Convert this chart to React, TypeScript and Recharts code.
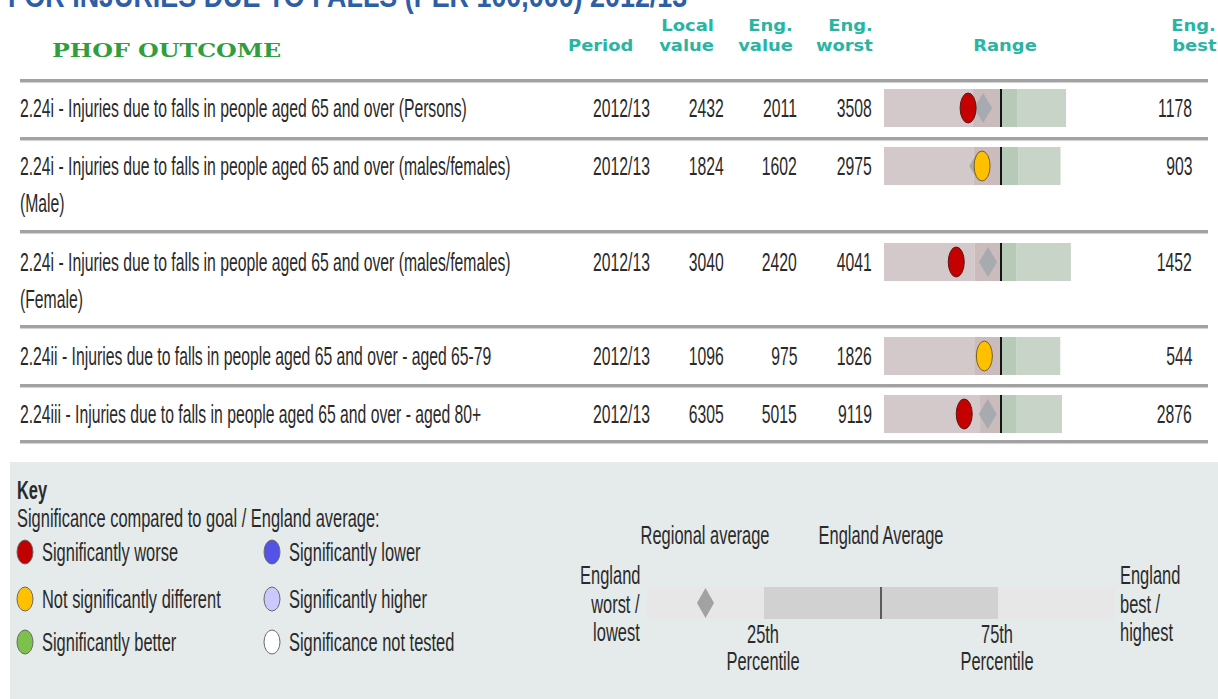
import React from 'react';
import { ComposedChart, Bar, XAxis, YAxis, ReferenceLine, ReferenceDot } from 'recharts';

// table rows (PHOF 2.24 injuries due to falls, per 100,000, 2012/13)
const OUTCOMES: string[][] = [
    ['2.24i - Injuries due to falls in people aged 65 and over (Persons)'],
    ['2.24i - Injuries due to falls in people aged 65 and over (males/females)', '(Male)'],
    ['2.24i - Injuries due to falls in people aged 65 and over (males/females)', '(Female)'],
    ['2.24ii - Injuries due to falls in people aged 65 and over - aged 65-79'],
    ['2.24iii - Injuries due to falls in people aged 65 and over - aged 80+'],
];
const PERIODS = ['2012/13', '2012/13', '2012/13', '2012/13', '2012/13'];
const LOCAL_VALUES = [2432, 1824, 3040, 1096, 6305];
const ENG_VALUES = [2011, 1602, 2420, 975, 5015];
const ENG_WORST = [3508, 2975, 4041, 1826, 9119];
const ENG_BEST = [1178, 903, 1452, 544, 2876];
// percentiles and regional average, estimated from the range bars
const Q25 = [2370, 1920, 2790, 1170, 5750];
const Q75 = [1805, 1400, 2210, 865, 4490];
const REGIONAL = [2240, 1870, 2600, 1095, 5480];
const SIGNIFICANCE = ['worse', 'same', 'worse', 'same', 'worse'];

const KEY_ITEMS = [
    { label: 'Significantly worse', fill: '#c00000' },
    { label: 'Significantly lower', fill: '#5353e8' },
    { label: 'Not significantly different', fill: '#ffc000' },
    { label: 'Significantly higher', fill: '#c9c9ff' },
    { label: 'Significantly better', fill: '#7cc24a' },
    { label: 'Significance not tested', fill: '#ffffff' },
];
const KEY_BANDS = [{ name: 'key', low: 25, mid: 50, high: 25 }];

const SIG_COLORS: Record<string, { fill: string; stroke: string }> = {
    worse: { fill: '#c40000', stroke: '#5e1414' },
    same: { fill: '#ffc000', stroke: '#7a6020' },
};

// layout
const ROW_Y = [108, 166, 262, 356, 414];
const SEP_Y = [80, 138, 231, 326, 385, 441];
const LINE_GAP = 37;
const SQ = 0.605;
const SQ_KEY = 0.632;
const BODY = '"Liberation Sans", Arial, sans-serif';

type TProps = {
    x: number;
    y: number;
    children: React.ReactNode;
    align?: 'left' | 'right' | 'center';
    size?: number;
    weight?: number;
    color?: string;
    sx?: number;
    family?: string;
};

function T({ x, y, children, align = 'left', size = 26, weight = 400, color = '#2a2a2a', sx = SQ, family = BODY }: TProps) {
    const lh = size;
    const inner: React.CSSProperties = {
        position: 'absolute',
        top: 0,
        whiteSpace: 'nowrap',
        fontFamily: family,
        fontSize: size,
        fontWeight: weight,
        lineHeight: `${lh}px`,
        color,
    };
    if (align === 'left') Object.assign(inner, { left: 0, transform: `scaleX(${sx})`, transformOrigin: 'left center' });
    if (align === 'right') Object.assign(inner, { right: 0, transform: `scaleX(${sx})`, transformOrigin: 'right center' });
    if (align === 'center') Object.assign(inner, { left: 0, transform: `translateX(-50%) scaleX(${sx})`, transformOrigin: 'center center' });
    return (
        <div style={{ position: 'absolute', left: x, top: y - lh / 2, width: 0, height: lh }}>
            <span style={inner}>{children}</span>
        </div>
    );
}

const Diamond = (w: number, h: number, fill: string) => (p: any) => (
    <polygon
        points={`${p.cx},${p.cy - h / 2} ${p.cx + w / 2},${p.cy} ${p.cx},${p.cy + h / 2} ${p.cx - w / 2},${p.cy}`}
        fill={fill}
    />
);

function SpineChart({ i }: { i: number }) {
    const eng = ENG_VALUES[i];
    const half = Math.max(ENG_WORST[i] - eng, eng - ENG_BEST[i]);
    const data = [
        {
            name: `r${i}`,
            base: ENG_BEST[i],
            bestQ: Q75[i] - ENG_BEST[i],
            q75Avg: eng - Q75[i],
            avgQ25: Q25[i] - eng,
            q25Worst: ENG_WORST[i] - Q25[i],
        },
    ];
    const sig = SIG_COLORS[SIGNIFICANCE[i]];
    return (
        <ComposedChart
            width={234}
            height={38}
            layout="vertical"
            data={data}
            margin={{ top: 0, right: 0, bottom: 0, left: 0 }}
            barCategoryGap={0}
        >
            <XAxis type="number" hide reversed allowDataOverflow domain={[eng - half, eng + half]} />
            <YAxis type="category" dataKey="name" hide />
            <Bar dataKey="base" stackId="s" fill="transparent" isAnimationActive={false} />
            <Bar dataKey="bestQ" stackId="s" fill="#c9d4c9" isAnimationActive={false} />
            <Bar dataKey="q75Avg" stackId="s" fill="#b7c9b7" isAnimationActive={false} />
            <Bar dataKey="avgQ25" stackId="s" fill="#cabbbc" isAnimationActive={false} />
            <Bar dataKey="q25Worst" stackId="s" fill="#d4c9ca" isAnimationActive={false} />
            <ReferenceDot x={REGIONAL[i]} y={`r${i}`} shape={Diamond(18, 30, '#a7aaaf')} />
            <ReferenceLine x={eng} stroke="#151515" strokeWidth={2} />
            <ReferenceDot
                x={LOCAL_VALUES[i]}
                y={`r${i}`}
                shape={(p: any) => <ellipse cx={p.cx} cy={p.cy} rx={8} ry={15} fill={sig.fill} stroke={sig.stroke} strokeWidth={1} />}
            />
        </ComposedChart>
    );
}

function KeyBar() {
    return (
        <ComposedChart
            width={468}
            height={32}
            layout="vertical"
            data={KEY_BANDS}
            margin={{ top: 0, right: 0, bottom: 0, left: 0 }}
            barCategoryGap={0}
        >
            <XAxis type="number" hide domain={[0, 100]} />
            <YAxis type="category" dataKey="name" hide />
            <Bar dataKey="low" stackId="k" fill="#e7e7e7" isAnimationActive={false} />
            <Bar dataKey="mid" stackId="k" fill="#d1d1d1" isAnimationActive={false} />
            <Bar dataKey="high" stackId="k" fill="#e7e7e7" isAnimationActive={false} />
            <ReferenceLine x={50} stroke="#333" strokeWidth={1.5} />
            <ReferenceDot x={12.5} y="key" shape={Diamond(17, 30, '#a2a2a2')} />
        </ComposedChart>
    );
}

const HEAD = '"DejaVu Sans", Verdana, sans-serif';
const TEAL = '#2ab4a4';

export default function App() {
    const head = (x: number, y: number, s: string, align: 'right' | 'center' = 'right') => (
        <T x={x} y={y} align={align} size={16} weight={700} color={TEAL} sx={1.12} family={HEAD}>
            {s}
        </T>
    );
    const K = (p: TProps) => <T sx={SQ_KEY} {...p} />;
    return (
        <div style={{ position: 'absolute', left: 0, top: 0, width: 1218, height: 699, background: '#fff', overflow: 'hidden' }}>
            <T x={8} y={-4.5} size={32} weight={700} color="#2e5ea6" sx={0.84}>
                FOR INJURIES DUE TO FALLS (PER 100,000) 2012/13
            </T>
            <T x={52} y={50} size={19} weight={700} color="#2f9e3f" sx={1.25} family='"DejaVu Serif", serif'>
                PHOF OUTCOME
            </T>
            {head(633, 46, 'Period')}
            {head(714, 26, 'Local')}
            {head(714, 46, 'value')}
            {head(793, 26, 'Eng.')}
            {head(793, 46, 'value')}
            {head(873, 26, 'Eng.')}
            {head(873, 46, 'worst')}
            {head(1005, 46, 'Range', 'center')}
            {head(1216, 26, 'Eng.')}
            {head(1216, 46, 'best')}

            {SEP_Y.map((y) => (
                <div key={y} style={{ position: 'absolute', left: 20, top: y - 1.5, width: 1188, height: 3, background: '#a2a2a2', boxShadow: '0 1px 1px #d0d0d0' }} />
            ))}

            {OUTCOMES.map((lines, i) => (
                <React.Fragment key={i}>
                    {lines.map((l, j) => (
                        <T key={j} x={20} y={ROW_Y[i] + j * LINE_GAP}>
                            {l}
                        </T>
                    ))}
                    <T x={650} y={ROW_Y[i]} align="right">{PERIODS[i]}</T>
                    <T x={724} y={ROW_Y[i]} align="right">{LOCAL_VALUES[i]}</T>
                    <T x={797} y={ROW_Y[i]} align="right">{ENG_VALUES[i]}</T>
                    <T x={872} y={ROW_Y[i]} align="right">{ENG_WORST[i]}</T>
                    <T x={1192} y={ROW_Y[i]} align="right">{ENG_BEST[i]}</T>
                    <div style={{ position: 'absolute', left: 884, top: ROW_Y[i] - 19 }}>
                        <SpineChart i={i} />
                    </div>
                </React.Fragment>
            ))}

            <div style={{ position: 'absolute', left: 10, top: 462, width: 1208, height: 237, background: '#e5eaea' }}>
                <K x={7} y={28} weight={700}>Key</K>
                <K x={7} y={56}>Significance compared to goal / England average:</K>
                {KEY_ITEMS.map((k, i) => {
                    const col = i % 2;
                    const row = Math.floor(i / 2);
                    const cx = col === 0 ? 15 : 262;
                    const cy = [90, 137, 180][row];
                    return (
                        <React.Fragment key={k.label}>
                            <svg style={{ position: 'absolute', left: cx - 9, top: cy - 13 }} width={18} height={26}>
                                <ellipse cx={9} cy={13} rx={8} ry={12} fill={k.fill} stroke="#6a6a6a" strokeWidth={1} />
                            </svg>
                            <K x={cx + 17} y={cy}>{k.label}</K>
                        </React.Fragment>
                    );
                })}

                <K x={695} y={73} align="center">Regional average</K>
                <K x={871} y={73} align="center">England Average</K>
                <K x={630} y={113} align="right">England</K>
                <K x={630} y={142} align="right">worst /</K>
                <K x={630} y={170} align="right">lowest</K>
                <K x={1110} y={113}>England</K>
                <K x={1110} y={142}>best /</K>
                <K x={1110} y={170}>highest</K>
                <K x={753} y={172} align="center">25th</K>
                <K x={753} y={199} align="center">Percentile</K>
                <K x={987} y={172} align="center">75th</K>
                <K x={987} y={199} align="center">Percentile</K>
                <div style={{ position: 'absolute', left: 637, top: 125 }}>
                    <KeyBar />
                </div>
            </div>
        </div>
    );
}
